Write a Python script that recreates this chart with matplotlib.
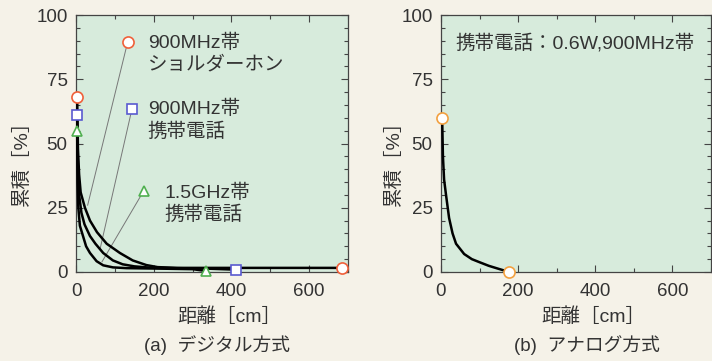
import matplotlib
matplotlib.use('Agg')
import matplotlib.pyplot as plt
from matplotlib.ticker import MultipleLocator

plt.rcParams['font.family'] = ['Liberation Sans', 'Noto Sans CJK JP', 'DejaVu Sans']

# ---- data ----
shoulder_x = [3, 5, 8, 12, 23, 36, 54, 79, 113, 146, 181, 210, 260, 400, 550, 685]
shoulder_y = [68, 48, 38, 31, 25, 20, 15.5, 11, 7.4, 4.5, 2.7, 1.9, 1.6, 1.6, 1.6, 1.6]

phone900_x = [3, 5, 8, 14, 22, 36, 50, 70, 95, 120, 150, 190, 260, 340, 413]
phone900_y = [61, 40, 30, 23, 18.5, 14, 11, 7.4, 4.5, 3, 2.2, 1.7, 1.5, 1.3, 0.9]

phone15_x = [3, 4, 6, 10, 18, 26, 36, 53, 70, 95, 130, 220, 300, 335]
phone15_y = [55, 35, 25, 18, 14, 10, 7.4, 4.2, 2.6, 1.8, 1.5, 1.3, 1.1, 0.4]

analog_x = [3, 5, 8, 13, 21, 30, 39, 60, 80, 100, 124, 150, 177]
analog_y = [60, 45, 36, 30, 21, 15, 11, 7, 5, 3.8, 2.4, 1.2, 0]

x_ticks = [0, 200, 400, 600]
y_ticks = [0, 25, 50, 75, 100]

labels_a = ["900MHz帯\nショルダーホン", "900MHz帯\n携帯電話", "1.5GHz帯\n携帯電話"]
label_b = "携帯電話：0.6W,900MHz帯"

# ---- style ----
W, H = 712, 361
fig = plt.figure(figsize=(W / 100, H / 100), dpi=100)
fig.patch.set_facecolor('#f5f2e8')
face = '#d7ebdc'
txt = '#333333'

def px_axes(l, t, r, b):
    return fig.add_axes([l / W, 1 - b / H, (r - l) / W, (b - t) / H])

axA = px_axes(76, 15, 348, 272)
axB = px_axes(441, 15, 711, 272)

for ax in (axA, axB):
    ax.set_facecolor(face)
    ax.set_xlim(0, 700)
    ax.set_ylim(0, 100)
    ax.set_xticks(x_ticks)
    ax.set_yticks(y_ticks)
    ax.xaxis.set_minor_locator(MultipleLocator(100))
    ax.yaxis.set_minor_locator(MultipleLocator(5))
    ax.tick_params(which='both', direction='in', top=True, right=True,
                   colors='#444444', labelcolor=txt, labelsize=13.5, width=0.8)
    ax.tick_params(which='major', length=5)
    ax.tick_params(which='minor', length=3)
    ax.tick_params(axis='x', which='major', pad=8)
    ax.tick_params(axis='y', which='major', pad=6)
    for s in ax.spines.values():
        s.set_color('#444444')
        s.set_linewidth(0.9)

lw = 1.8
red = '#f0603a'
blue = '#5a5ad0'
green = '#50b050'
orange = '#f2a040'

msize = {'o': 8, 's': 6.5, '^': 7}

def mk(m):
    return dict(markersize=msize[m], markeredgewidth=1.2, clip_on=False,
                zorder=5, linestyle='none')

# panel (a)
for xs, ys, m, c in [(shoulder_x, shoulder_y, 'o', red),
                     (phone900_x, phone900_y, 's', blue),
                     (phone15_x, phone15_y, '^', green)]:
    axA.plot(xs, ys, color='black', lw=lw, zorder=3, clip_on=False,
             solid_joinstyle='round')
    axA.plot([xs[0], xs[-1]], [ys[0], ys[-1]], marker=m, color=c,
             markerfacecolor='white', markeredgecolor=c, **mk(m))

# legend-like annotations with leader lines
ann = [((133, 89.5), (30, 26), 'o', red, labels_a[0], (185, 85)),
       ((144, 63.4), (62, 9.0), 's', blue, labels_a[1], (185, 59)),
       ((174, 31.5), (67, 4.0), '^', green, labels_a[2], (228, 26.5))]
for (mx, my), (ex, ey), m, c, lab, (tx, ty) in ann:
    axA.plot([mx, ex], [my, ey], color='#777777', lw=0.7, zorder=2)
    axA.plot([mx], [my], marker=m, color=c, markerfacecolor='white',
             markeredgecolor=c, **mk(m))
    axA.text(tx, ty, lab, fontsize=14, color=txt, va='center', ha='left',
             linespacing=1.3)

# panel (b)
axB.plot(analog_x, analog_y, color='black', lw=lw, zorder=3, solid_joinstyle='round')
axB.plot([analog_x[0], analog_x[-1]], [analog_y[0], analog_y[-1]], marker='o',
         color=orange, markerfacecolor='white', markeredgecolor=orange, **mk('o'))
axB.text(38, 89, label_b, fontsize=14, color=txt, va='center', ha='left')

# axis labels and captions
for xl, yl, cap, capx in [(229, 22, "(a)  デジタル方式", 217),
                          (593, 394, "(b)  アナログ方式", 587)]:
    fig.text(xl / W, 1 - 317 / H, "距離［cm］", fontsize=14, color=txt,
             ha='center', va='center')
    fig.text(yl / W, 1 - 158 / H, "累積［%］", fontsize=14, color=txt,
             ha='center', va='center', rotation=90)
    fig.text(capx / W, 1 - 345 / H, cap, fontsize=13.5, color=txt,
             ha='center', va='center')

fig.savefig('out.png', dpi=100, facecolor=fig.get_facecolor())
